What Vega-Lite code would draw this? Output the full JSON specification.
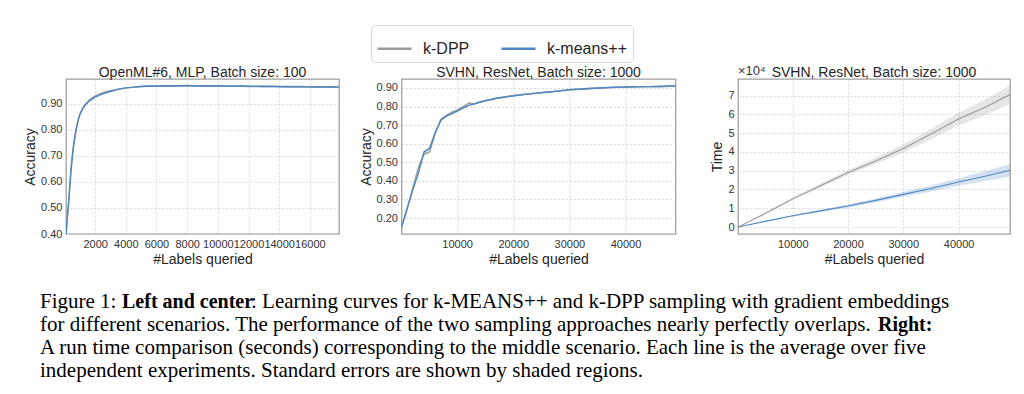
{
  "$schema": "https://vega.github.io/schema/vega-lite/v6.json",
  "padding": {"left": 22, "top": 24, "right": 5, "bottom": 5},
  "background": "white",
  "datasets": {
    "p1": [
      {"m": "k-DPP", "x": 100, "y": 0.400}, {"m": "k-DPP", "x": 200, "y": 0.475}, {"m": "k-DPP", "x": 300, "y": 0.545}, {"m": "k-DPP", "x": 400, "y": 0.630}, {"m": "k-DPP", "x": 500, "y": 0.692}, {"m": "k-DPP", "x": 600, "y": 0.745}, {"m": "k-DPP", "x": 700, "y": 0.785}, {"m": "k-DPP", "x": 800, "y": 0.815}, {"m": "k-DPP", "x": 900, "y": 0.840}, {"m": "k-DPP", "x": 1000, "y": 0.860}, {"m": "k-DPP", "x": 1200, "y": 0.885}, {"m": "k-DPP", "x": 1400, "y": 0.900}, {"m": "k-DPP", "x": 1600, "y": 0.913}, {"m": "k-DPP", "x": 1800, "y": 0.922}, {"m": "k-DPP", "x": 2000, "y": 0.930}, {"m": "k-DPP", "x": 2300, "y": 0.938}, {"m": "k-DPP", "x": 2600, "y": 0.944}, {"m": "k-DPP", "x": 3000, "y": 0.950}, {"m": "k-DPP", "x": 3500, "y": 0.956}, {"m": "k-DPP", "x": 4000, "y": 0.961}, {"m": "k-DPP", "x": 4500, "y": 0.963}, {"m": "k-DPP", "x": 5000, "y": 0.966}, {"m": "k-DPP", "x": 5500, "y": 0.967}, {"m": "k-DPP", "x": 6000, "y": 0.968}, {"m": "k-DPP", "x": 6500, "y": 0.968}, {"m": "k-DPP", "x": 7000, "y": 0.969}, {"m": "k-DPP", "x": 7500, "y": 0.968}, {"m": "k-DPP", "x": 8000, "y": 0.969}, {"m": "k-DPP", "x": 8500, "y": 0.969}, {"m": "k-DPP", "x": 9000, "y": 0.968}, {"m": "k-DPP", "x": 9500, "y": 0.969}, {"m": "k-DPP", "x": 10000, "y": 0.968}, {"m": "k-DPP", "x": 10500, "y": 0.968}, {"m": "k-DPP", "x": 11000, "y": 0.967}, {"m": "k-DPP", "x": 11500, "y": 0.968}, {"m": "k-DPP", "x": 12000, "y": 0.967}, {"m": "k-DPP", "x": 12500, "y": 0.966}, {"m": "k-DPP", "x": 13000, "y": 0.967}, {"m": "k-DPP", "x": 13500, "y": 0.966}, {"m": "k-DPP", "x": 14000, "y": 0.966}, {"m": "k-DPP", "x": 14500, "y": 0.965}, {"m": "k-DPP", "x": 15000, "y": 0.966}, {"m": "k-DPP", "x": 15500, "y": 0.965}, {"m": "k-DPP", "x": 16000, "y": 0.965}, {"m": "k-DPP", "x": 16500, "y": 0.964}, {"m": "k-DPP", "x": 17000, "y": 0.965}, {"m": "k-DPP", "x": 17500, "y": 0.964}, {"m": "k-DPP", "x": 17900, "y": 0.964},
      {"m": "k-means++", "x": 100, "y": 0.400}, {"m": "k-means++", "x": 200, "y": 0.470}, {"m": "k-means++", "x": 300, "y": 0.540}, {"m": "k-means++", "x": 400, "y": 0.625}, {"m": "k-means++", "x": 500, "y": 0.690}, {"m": "k-means++", "x": 600, "y": 0.740}, {"m": "k-means++", "x": 700, "y": 0.780}, {"m": "k-means++", "x": 800, "y": 0.812}, {"m": "k-means++", "x": 900, "y": 0.838}, {"m": "k-means++", "x": 1000, "y": 0.858}, {"m": "k-means++", "x": 1200, "y": 0.882}, {"m": "k-means++", "x": 1400, "y": 0.898}, {"m": "k-means++", "x": 1600, "y": 0.910}, {"m": "k-means++", "x": 1800, "y": 0.918}, {"m": "k-means++", "x": 2000, "y": 0.925}, {"m": "k-means++", "x": 2300, "y": 0.933}, {"m": "k-means++", "x": 2600, "y": 0.940}, {"m": "k-means++", "x": 3000, "y": 0.947}, {"m": "k-means++", "x": 3500, "y": 0.955}, {"m": "k-means++", "x": 4000, "y": 0.961}, {"m": "k-means++", "x": 4500, "y": 0.964}, {"m": "k-means++", "x": 5000, "y": 0.966}, {"m": "k-means++", "x": 5500, "y": 0.968}, {"m": "k-means++", "x": 6000, "y": 0.967}, {"m": "k-means++", "x": 6500, "y": 0.969}, {"m": "k-means++", "x": 7000, "y": 0.968}, {"m": "k-means++", "x": 7500, "y": 0.969}, {"m": "k-means++", "x": 8000, "y": 0.970}, {"m": "k-means++", "x": 8500, "y": 0.968}, {"m": "k-means++", "x": 9000, "y": 0.969}, {"m": "k-means++", "x": 9500, "y": 0.968}, {"m": "k-means++", "x": 10000, "y": 0.969}, {"m": "k-means++", "x": 10500, "y": 0.967}, {"m": "k-means++", "x": 11000, "y": 0.968}, {"m": "k-means++", "x": 11500, "y": 0.968}, {"m": "k-means++", "x": 12000, "y": 0.966}, {"m": "k-means++", "x": 12500, "y": 0.967}, {"m": "k-means++", "x": 13000, "y": 0.966}, {"m": "k-means++", "x": 13500, "y": 0.967}, {"m": "k-means++", "x": 14000, "y": 0.965}, {"m": "k-means++", "x": 14500, "y": 0.966}, {"m": "k-means++", "x": 15000, "y": 0.965}, {"m": "k-means++", "x": 15500, "y": 0.966}, {"m": "k-means++", "x": 16000, "y": 0.964}, {"m": "k-means++", "x": 16500, "y": 0.965}, {"m": "k-means++", "x": 17000, "y": 0.964}, {"m": "k-means++", "x": 17500, "y": 0.965}, {"m": "k-means++", "x": 17900, "y": 0.964}
    ],
    "p2": [
      {"m": "k-DPP", "x": 100, "y": 0.150, "lo": 0.146, "hi": 0.154}, {"m": "k-DPP", "x": 1100, "y": 0.250, "lo": 0.246, "hi": 0.254}, {"m": "k-DPP", "x": 2100, "y": 0.360, "lo": 0.354, "hi": 0.366}, {"m": "k-DPP", "x": 3100, "y": 0.470, "lo": 0.458, "hi": 0.482}, {"m": "k-DPP", "x": 4100, "y": 0.545, "lo": 0.533, "hi": 0.557}, {"m": "k-DPP", "x": 5100, "y": 0.555, "lo": 0.543, "hi": 0.567}, {"m": "k-DPP", "x": 6100, "y": 0.655, "lo": 0.643, "hi": 0.667}, {"m": "k-DPP", "x": 7100, "y": 0.730, "lo": 0.724, "hi": 0.736}, {"m": "k-DPP", "x": 8100, "y": 0.752, "lo": 0.748, "hi": 0.756}, {"m": "k-DPP", "x": 9100, "y": 0.770, "lo": 0.766, "hi": 0.774}, {"m": "k-DPP", "x": 10100, "y": 0.782, "lo": 0.778, "hi": 0.786}, {"m": "k-DPP", "x": 11100, "y": 0.800, "lo": 0.796, "hi": 0.804}, {"m": "k-DPP", "x": 12100, "y": 0.818, "lo": 0.813, "hi": 0.823}, {"m": "k-DPP", "x": 13100, "y": 0.814, "lo": 0.810, "hi": 0.818}, {"m": "k-DPP", "x": 14100, "y": 0.822, "lo": 0.818, "hi": 0.826}, {"m": "k-DPP", "x": 15100, "y": 0.830, "lo": 0.826, "hi": 0.834}, {"m": "k-DPP", "x": 16100, "y": 0.838, "lo": 0.834, "hi": 0.842}, {"m": "k-DPP", "x": 17100, "y": 0.844, "lo": 0.840, "hi": 0.848}, {"m": "k-DPP", "x": 18100, "y": 0.848, "lo": 0.844, "hi": 0.852}, {"m": "k-DPP", "x": 19100, "y": 0.855, "lo": 0.851, "hi": 0.859}, {"m": "k-DPP", "x": 20100, "y": 0.860, "lo": 0.856, "hi": 0.864}, {"m": "k-DPP", "x": 22100, "y": 0.866, "lo": 0.862, "hi": 0.870}, {"m": "k-DPP", "x": 24100, "y": 0.871, "lo": 0.867, "hi": 0.875}, {"m": "k-DPP", "x": 26100, "y": 0.879, "lo": 0.875, "hi": 0.883}, {"m": "k-DPP", "x": 28100, "y": 0.884, "lo": 0.880, "hi": 0.888}, {"m": "k-DPP", "x": 30100, "y": 0.891, "lo": 0.887, "hi": 0.895}, {"m": "k-DPP", "x": 32100, "y": 0.893, "lo": 0.889, "hi": 0.897}, {"m": "k-DPP", "x": 34100, "y": 0.897, "lo": 0.893, "hi": 0.901}, {"m": "k-DPP", "x": 36100, "y": 0.901, "lo": 0.897, "hi": 0.905}, {"m": "k-DPP", "x": 38100, "y": 0.904, "lo": 0.900, "hi": 0.908}, {"m": "k-DPP", "x": 40100, "y": 0.905, "lo": 0.901, "hi": 0.909}, {"m": "k-DPP", "x": 42100, "y": 0.907, "lo": 0.903, "hi": 0.911}, {"m": "k-DPP", "x": 44100, "y": 0.907, "lo": 0.903, "hi": 0.911}, {"m": "k-DPP", "x": 46100, "y": 0.908, "lo": 0.904, "hi": 0.912}, {"m": "k-DPP", "x": 48100, "y": 0.909, "lo": 0.905, "hi": 0.913}, {"m": "k-DPP", "x": 48900, "y": 0.910, "lo": 0.906, "hi": 0.914},
      {"m": "k-means++", "x": 100, "y": 0.150, "lo": 0.146, "hi": 0.154}, {"m": "k-means++", "x": 1100, "y": 0.250, "lo": 0.246, "hi": 0.254}, {"m": "k-means++", "x": 2100, "y": 0.350, "lo": 0.346, "hi": 0.354}, {"m": "k-means++", "x": 3100, "y": 0.440, "lo": 0.434, "hi": 0.446}, {"m": "k-means++", "x": 4100, "y": 0.555, "lo": 0.547, "hi": 0.563}, {"m": "k-means++", "x": 5100, "y": 0.575, "lo": 0.567, "hi": 0.583}, {"m": "k-means++", "x": 6100, "y": 0.660, "lo": 0.654, "hi": 0.666}, {"m": "k-means++", "x": 7100, "y": 0.725, "lo": 0.721, "hi": 0.729}, {"m": "k-means++", "x": 8100, "y": 0.748, "lo": 0.744, "hi": 0.752}, {"m": "k-means++", "x": 9100, "y": 0.762, "lo": 0.758, "hi": 0.766}, {"m": "k-means++", "x": 10100, "y": 0.776, "lo": 0.772, "hi": 0.780}, {"m": "k-means++", "x": 11100, "y": 0.792, "lo": 0.788, "hi": 0.796}, {"m": "k-means++", "x": 12100, "y": 0.806, "lo": 0.802, "hi": 0.810}, {"m": "k-means++", "x": 13100, "y": 0.815, "lo": 0.811, "hi": 0.819}, {"m": "k-means++", "x": 14100, "y": 0.825, "lo": 0.821, "hi": 0.829}, {"m": "k-means++", "x": 15100, "y": 0.832, "lo": 0.828, "hi": 0.836}, {"m": "k-means++", "x": 16100, "y": 0.838, "lo": 0.834, "hi": 0.842}, {"m": "k-means++", "x": 17100, "y": 0.846, "lo": 0.842, "hi": 0.850}, {"m": "k-means++", "x": 18100, "y": 0.850, "lo": 0.846, "hi": 0.854}, {"m": "k-means++", "x": 19100, "y": 0.853, "lo": 0.849, "hi": 0.857}, {"m": "k-means++", "x": 20100, "y": 0.857, "lo": 0.853, "hi": 0.861}, {"m": "k-means++", "x": 22100, "y": 0.865, "lo": 0.861, "hi": 0.869}, {"m": "k-means++", "x": 24100, "y": 0.872, "lo": 0.868, "hi": 0.876}, {"m": "k-means++", "x": 26100, "y": 0.877, "lo": 0.873, "hi": 0.881}, {"m": "k-means++", "x": 28100, "y": 0.883, "lo": 0.879, "hi": 0.887}, {"m": "k-means++", "x": 30100, "y": 0.890, "lo": 0.886, "hi": 0.894}, {"m": "k-means++", "x": 32100, "y": 0.894, "lo": 0.890, "hi": 0.898}, {"m": "k-means++", "x": 34100, "y": 0.898, "lo": 0.894, "hi": 0.902}, {"m": "k-means++", "x": 36100, "y": 0.901, "lo": 0.897, "hi": 0.905}, {"m": "k-means++", "x": 38100, "y": 0.903, "lo": 0.899, "hi": 0.907}, {"m": "k-means++", "x": 40100, "y": 0.905, "lo": 0.901, "hi": 0.909}, {"m": "k-means++", "x": 42100, "y": 0.906, "lo": 0.902, "hi": 0.910}, {"m": "k-means++", "x": 44100, "y": 0.907, "lo": 0.903, "hi": 0.911}, {"m": "k-means++", "x": 46100, "y": 0.908, "lo": 0.904, "hi": 0.912}, {"m": "k-means++", "x": 48100, "y": 0.910, "lo": 0.906, "hi": 0.914}, {"m": "k-means++", "x": 48900, "y": 0.910, "lo": 0.906, "hi": 0.914}
    ],
    "p3": [
      {"m": "k-DPP", "x": 100, "y": 0, "lo": 0, "hi": 0}, {"m": "k-DPP", "x": 5000, "y": 7200, "lo": 6800, "hi": 7600}, {"m": "k-DPP", "x": 10000, "y": 15000, "lo": 14300, "hi": 15700}, {"m": "k-DPP", "x": 15000, "y": 22000, "lo": 21000, "hi": 23000}, {"m": "k-DPP", "x": 20000, "y": 29000, "lo": 27700, "hi": 30300}, {"m": "k-DPP", "x": 25000, "y": 35200, "lo": 33500, "hi": 36900}, {"m": "k-DPP", "x": 30000, "y": 41800, "lo": 39600, "hi": 44000}, {"m": "k-DPP", "x": 35000, "y": 49500, "lo": 46700, "hi": 52300}, {"m": "k-DPP", "x": 40000, "y": 57500, "lo": 54100, "hi": 60900}, {"m": "k-DPP", "x": 45000, "y": 64000, "lo": 59800, "hi": 68200}, {"m": "k-DPP", "x": 49300, "y": 70500, "lo": 65500, "hi": 75500},
      {"m": "k-means++", "x": 100, "y": 0, "lo": 0, "hi": 0}, {"m": "k-means++", "x": 5000, "y": 3000, "lo": 2800, "hi": 3200}, {"m": "k-means++", "x": 10000, "y": 6000, "lo": 5600, "hi": 6400}, {"m": "k-means++", "x": 15000, "y": 8600, "lo": 8000, "hi": 9200}, {"m": "k-means++", "x": 20000, "y": 11200, "lo": 10400, "hi": 12000}, {"m": "k-means++", "x": 25000, "y": 14200, "lo": 13200, "hi": 15200}, {"m": "k-means++", "x": 30000, "y": 17400, "lo": 16100, "hi": 18700}, {"m": "k-means++", "x": 35000, "y": 20500, "lo": 18900, "hi": 22100}, {"m": "k-means++", "x": 40000, "y": 24000, "lo": 22000, "hi": 26000}, {"m": "k-means++", "x": 45000, "y": 27200, "lo": 24600, "hi": 29800}, {"m": "k-means++", "x": 49300, "y": 30200, "lo": 26900, "hi": 33500}
    ],
    "caption": [
      {"line": 1, "part": "a", "text": "Figure 1:"},
      {"line": 1, "part": "b", "text": "Left and center"},
      {"line": 1, "part": "c", "text": ": Learning curves for k-MEANS++ and k-DPP sampling with gradient embeddings"},
      {"line": 2, "part": "a", "text": "for different scenarios. The performance of the two sampling approaches nearly perfectly overlaps."},
      {"line": 2, "part": "d", "text": "Right:"},
      {"line": 3, "part": "a", "text": "A run time comparison (seconds) corresponding to the middle scenario. Each line is the average over five"},
      {"line": 4, "part": "a", "text": "independent experiments. Standard errors are shown by shaded regions."}
    ]
  },
  "concat": [
    {
      "width": 273, "height": 155,
      "title": "OpenML#6, MLP, Batch size: 100",
      "data": {"name": "p1"},
      "mark": {"type": "line", "strokeWidth": 1.4, "clip": true},
      "encoding": {
        "x": {"field": "x", "type": "quantitative", "scale": {"domain": [100, 17900], "nice": false, "zero": false}, "axis": {"values": [2000, 4000, 6000, 8000, 10000, 12000, 14000, 16000], "format": "d", "title": "#Labels queried", "labelOverlap": false}},
        "y": {"field": "y", "type": "quantitative", "scale": {"domain": [0.4, 0.995], "nice": false, "zero": false}, "axis": {"values": [0.4, 0.5, 0.6, 0.7, 0.8, 0.9], "format": ".2f", "title": "Accuracy", "labelOverlap": false}},
        "color": {"field": "m", "type": "nominal", "scale": {"domain": ["k-DPP", "k-means++"], "range": ["#9a9a9a", "#4f87c3"]},
          "legend": {"orient": "none", "legendX": 305, "legendY": -54, "direction": "horizontal", "title": null, "symbolType": "stroke", "symbolSize": 1156, "symbolStrokeWidth": 2.5, "labelFontSize": 16, "labelOffset": 10, "columnPadding": 26, "padding": 5, "strokeColor": "#d9d9d9", "cornerRadius": 4, "fillColor": "white"}}
      }
    },
    {
      "width": 274, "height": 155,
      "title": "SVHN, ResNet, Batch size: 1000",
      "data": {"name": "p2"},
      "encoding": {
        "x": {"field": "x", "type": "quantitative", "scale": {"domain": [100, 48900], "nice": false, "zero": false}, "axis": {"values": [10000, 20000, 30000, 40000], "format": "d", "title": "#Labels queried", "labelOverlap": false}}
      },
      "layer": [
        {
          "mark": {"type": "area", "fillOpacity": 0.25, "clip": true},
          "encoding": {
            "y": {"field": "lo", "type": "quantitative", "scale": {"domain": [0.114, 0.948], "nice": false, "zero": false}, "axis": {"values": [0.2, 0.3, 0.4, 0.5, 0.6, 0.7, 0.8, 0.9], "format": ".2f", "title": "Accuracy", "labelOverlap": false}},
            "y2": {"field": "hi"},
            "fill": {"field": "m", "type": "nominal", "scale": {"domain": ["k-DPP", "k-means++"], "range": ["#9a9a9a", "#4f87c3"]}, "legend": null}
          }
        },
        {
          "mark": {"type": "line", "strokeWidth": 1.4, "clip": true},
          "encoding": {
            "y": {"field": "y", "type": "quantitative", "axis": {"values": [0.2, 0.3, 0.4, 0.5, 0.6, 0.7, 0.8, 0.9], "format": ".2f", "title": "Accuracy", "labelOverlap": false}},
            "color": {"field": "m", "type": "nominal"}
          }
        }
      ]
    },
    {
      "width": 272, "height": 155,
      "title": {"text": "SVHN, ResNet, Batch size: 1000", "offset": -15},
      "data": {"name": "p3"},
      "layer": [
        {
          "mark": {"type": "area", "fillOpacity": 0.25, "clip": true},
          "encoding": {
            "x": {"field": "x", "type": "quantitative", "scale": {"domain": [100, 49300], "nice": false, "zero": false}, "axis": {"values": [10000, 20000, 30000, 40000], "format": "d", "title": "#Labels queried", "labelOverlap": false}},
            "y": {"field": "lo", "type": "quantitative", "scale": {"domain": [-3700, 78800], "nice": false, "zero": false}, "axis": {"values": [0, 10000, 20000, 30000, 40000, 50000, 60000, 70000], "labelExpr": "datum.value / 10000", "title": "Time", "labelOverlap": false}},
            "y2": {"field": "hi"},
            "fill": {"field": "m", "type": "nominal", "legend": null}
          }
        },
        {
          "mark": {"type": "line", "strokeWidth": 1.1, "clip": true},
          "encoding": {
            "x": {"field": "x", "type": "quantitative", "axis": {"values": [10000, 20000, 30000, 40000], "format": "d", "title": "#Labels queried", "labelOverlap": false}},
            "y": {"field": "y", "type": "quantitative", "axis": {"values": [0, 10000, 20000, 30000, 40000, 50000, 60000, 70000], "labelExpr": "datum.value / 10000", "title": "Time", "labelOverlap": false}},
            "color": {"field": "m", "type": "nominal"}
          }
        },
        {
          "data": {"values": [{"label": "×10⁴"}]},
          "mark": {"type": "text", "align": "left", "baseline": "bottom", "dy": -1, "fontSize": 13, "color": "#333333"},
          "encoding": {
            "x": {"datum": 100, "type": "quantitative", "axis": {"values": [10000, 20000, 30000, 40000], "format": "d", "title": "#Labels queried", "labelOverlap": false}},
            "y": {"datum": 78800, "type": "quantitative", "axis": {"values": [0, 10000, 20000, 30000, 40000, 50000, 60000, 70000], "labelExpr": "datum.value / 10000", "title": "Time", "labelOverlap": false}},
            "text": {"field": "label"}
          }
        }
      ]
    },
    {
      "width": 273, "height": 93,
      "view": {"stroke": null},
      "data": {"name": "caption"},
      "encoding": {
        "y": {"field": "line", "type": "ordinal", "axis": null, "scale": {"type": "point", "padding": 0.5}}
      },
      "layer": [
        {
          "transform": [{"filter": "datum.part == 'a'"}],
          "mark": {"type": "text", "align": "left", "baseline": "middle", "font": "Liberation Serif", "fontSize": 21, "dx": -26, "color": "black"},
          "encoding": {"x": {"datum": 0, "type": "quantitative", "scale": {"domain": [0, 1]}, "axis": null}, "text": {"field": "text"}}
        },
        {
          "transform": [{"filter": "datum.part == 'b'"}],
          "mark": {"type": "text", "align": "left", "baseline": "middle", "font": "Liberation Serif", "fontSize": 20, "fontWeight": "bold", "dx": 56, "color": "black"},
          "encoding": {"x": {"datum": 0, "type": "quantitative"}, "text": {"field": "text"}}
        },
        {
          "transform": [{"filter": "datum.part == 'c'"}],
          "mark": {"type": "text", "align": "left", "baseline": "middle", "font": "Liberation Serif", "fontSize": 21, "dx": 185, "color": "black"},
          "encoding": {"x": {"datum": 0, "type": "quantitative"}, "text": {"field": "text"}}
        },
        {
          "transform": [{"filter": "datum.part == 'd'"}],
          "mark": {"type": "text", "align": "left", "baseline": "middle", "font": "Liberation Serif", "fontSize": 20, "fontWeight": "bold", "dx": 812, "color": "black"},
          "encoding": {"x": {"datum": 0, "type": "quantitative"}, "text": {"field": "text"}}
        }
      ]
    }
  ],
  "columns": 3,
  "spacing": {"column": 62.5, "row": 56},
  "bounds": "flush",
  "config": {
    "font": "Liberation Sans",
    "view": {"stroke": "#a0a0a0", "strokeWidth": 1.3},
    "axis": {"domain": false, "ticks": false, "grid": true, "gridColor": "#cfcfcf", "gridDash": [2, 2], "gridWidth": 0.8, "labelFontSize": 11, "labelColor": "#333333", "labelPadding": 4, "labelOverlap": false, "titleFontSize": 14, "titleFontWeight": "normal", "titleColor": "#262626", "titlePadding": 3},
    "title": {"fontSize": 14, "fontWeight": "normal", "color": "#262626", "offset": -1, "frame": "group"},
    "legend": {"labelFont": "Liberation Sans", "labelColor": "#262626"}
  }
}
